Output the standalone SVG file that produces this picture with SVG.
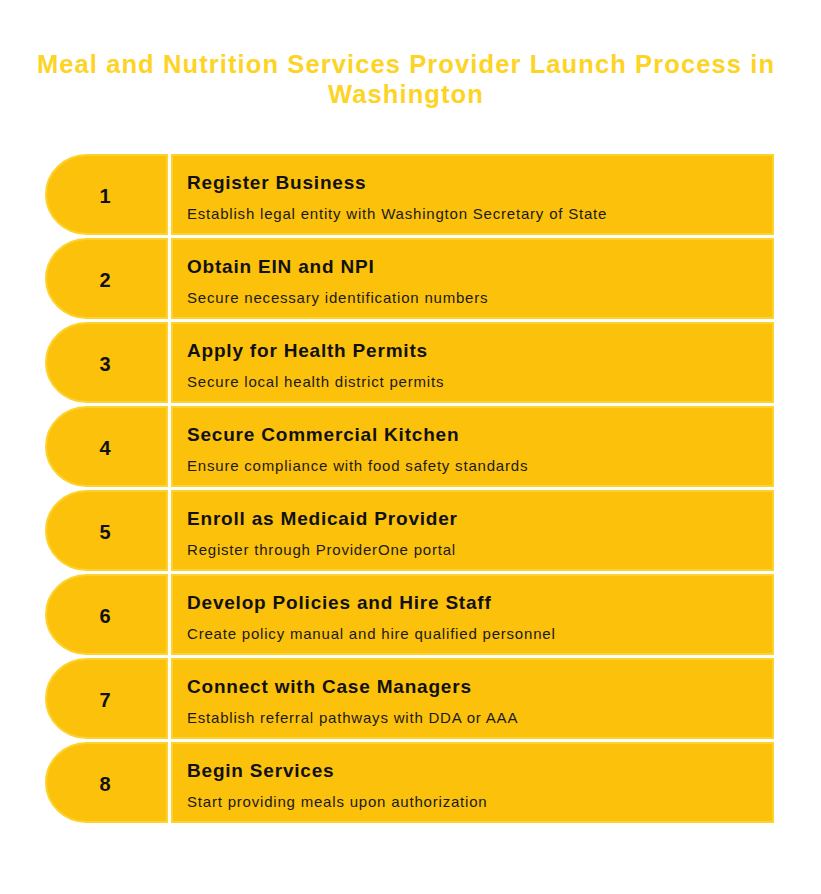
<svg xmlns="http://www.w3.org/2000/svg" width="821" height="894" viewBox="0 0 821 894">
<style>
.bg{fill:#ffffff}
.tab,.box{fill:#FCC10B;stroke:#FDD22C;stroke-width:2}
.ttl{font-family:"Liberation Sans",Arial,sans-serif;font-weight:bold;font-size:25.5px;letter-spacing:1.1px;fill:#FDD425;text-anchor:middle}
.num{font-family:"Liberation Sans",Arial,sans-serif;font-weight:bold;font-size:20px;fill:#111111;text-anchor:middle}
.head{font-family:"Liberation Sans",Arial,sans-serif;font-weight:bold;font-size:19px;letter-spacing:0.8px;fill:#111111}
.sub{font-family:"Liberation Sans",Arial,sans-serif;font-size:15px;letter-spacing:0.8px;fill:#1a1a1a}
</style>
<rect class="bg" x="0" y="0" width="821" height="894"/>
<g id="title">
<text class="ttl" x="406" y="73">Meal and Nutrition Services Provider Launch Process in</text>
<text class="ttl" x="406" y="103">Washington</text>
</g>
<g id="connectors"></g>
<g id="step1">
<path class="tab" d="M167,155 H87 A41,39.5 0 0 0 87,234 H167 Z"/>
<rect class="box" x="172" y="155" width="601" height="79"/>
<text class="num" x="105" y="203">1</text>
<text class="head" x="187" y="189">Register Business</text>
<text class="sub" x="187" y="219">Establish legal entity with Washington Secretary of State</text>
</g>
<g id="step2">
<path class="tab" d="M167,239 H87 A41,39.5 0 0 0 87,318 H167 Z"/>
<rect class="box" x="172" y="239" width="601" height="79"/>
<text class="num" x="105" y="287">2</text>
<text class="head" x="187" y="273">Obtain EIN and NPI</text>
<text class="sub" x="187" y="303">Secure necessary identification numbers</text>
</g>
<g id="step3">
<path class="tab" d="M167,323 H87 A41,39.5 0 0 0 87,402 H167 Z"/>
<rect class="box" x="172" y="323" width="601" height="79"/>
<text class="num" x="105" y="371">3</text>
<text class="head" x="187" y="357">Apply for Health Permits</text>
<text class="sub" x="187" y="387">Secure local health district permits</text>
</g>
<g id="step4">
<path class="tab" d="M167,407 H87 A41,39.5 0 0 0 87,486 H167 Z"/>
<rect class="box" x="172" y="407" width="601" height="79"/>
<text class="num" x="105" y="455">4</text>
<text class="head" x="187" y="441">Secure Commercial Kitchen</text>
<text class="sub" x="187" y="471">Ensure compliance with food safety standards</text>
</g>
<g id="step5">
<path class="tab" d="M167,491 H87 A41,39.5 0 0 0 87,570 H167 Z"/>
<rect class="box" x="172" y="491" width="601" height="79"/>
<text class="num" x="105" y="539">5</text>
<text class="head" x="187" y="525">Enroll as Medicaid Provider</text>
<text class="sub" x="187" y="555">Register through ProviderOne portal</text>
</g>
<g id="step6">
<path class="tab" d="M167,575 H87 A41,39.5 0 0 0 87,654 H167 Z"/>
<rect class="box" x="172" y="575" width="601" height="79"/>
<text class="num" x="105" y="623">6</text>
<text class="head" x="187" y="609">Develop Policies and Hire Staff</text>
<text class="sub" x="187" y="639">Create policy manual and hire qualified personnel</text>
</g>
<g id="step7">
<path class="tab" d="M167,659 H87 A41,39.5 0 0 0 87,738 H167 Z"/>
<rect class="box" x="172" y="659" width="601" height="79"/>
<text class="num" x="105" y="707">7</text>
<text class="head" x="187" y="693">Connect with Case Managers</text>
<text class="sub" x="187" y="723">Establish referral pathways with DDA or AAA</text>
</g>
<g id="step8">
<path class="tab" d="M167,743 H87 A41,39.5 0 0 0 87,822 H167 Z"/>
<rect class="box" x="172" y="743" width="601" height="79"/>
<text class="num" x="105" y="791">8</text>
<text class="head" x="187" y="777">Begin Services</text>
<text class="sub" x="187" y="807">Start providing meals upon authorization</text>
</g>
</svg>
